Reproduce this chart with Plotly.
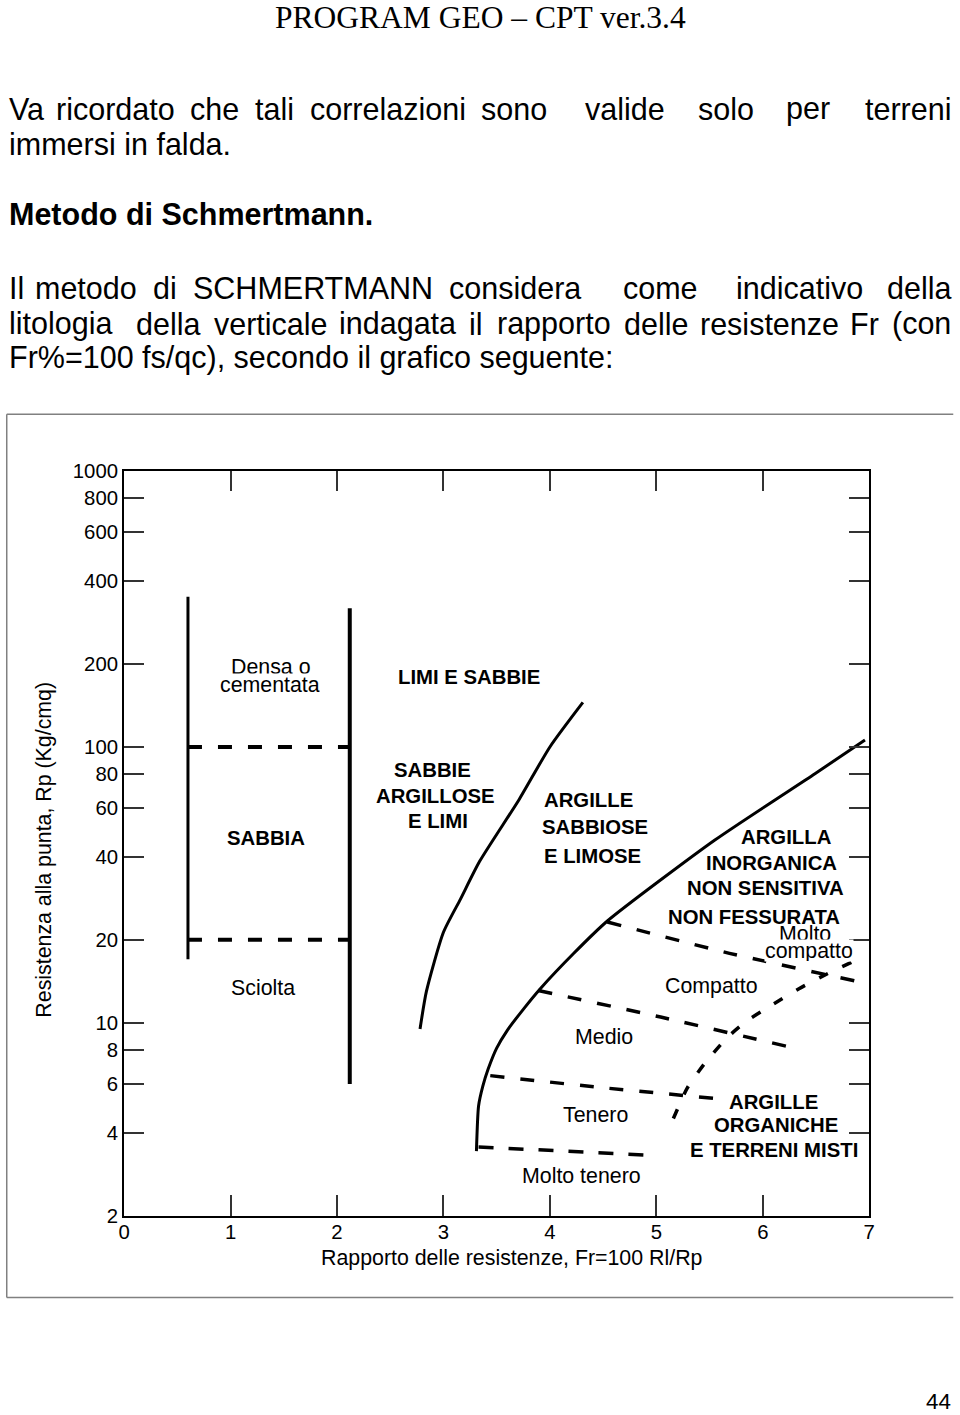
import math
import plotly.graph_objects as go

W, H = 960, 1415
SANS = "Liberation Sans, Arial, sans-serif"
SERIF = "Liberation Serif, Times New Roman, serif"

# The page is shown with the browser's default 8px body margin and the whole page is then
# fitted into 960x1415, so target positions (measured on the reference) are mapped accordingly.
SX = (W + 16) / W
SY = (H + 16) / H
FS = SX  # font scale


def fx(r):
    return min(max(r * SX - 8, 0.75), W - 0.75) / W


def fy(r):
    return 1 - min(max(r * SY - 8, 0.75), H - 0.75) / H


# ---------------- data ----------------
x_ticks = [0, 1, 2, 3, 4, 5, 6, 7]
y_ticks = [2, 4, 6, 8, 10, 20, 40, 60, 80, 100, 200, 400, 600, 800, 1000]

# sand column boundaries
sand_left_x = [0.6, 0.6]
sand_left_y = [350, 17]
sand_right_x = [2.12, 2.12]
sand_right_y = [318, 6]
sand_dense_x = [0.6, 2.12]
sand_dense_y = [100, 100]
sand_loose_x = [0.6, 2.12]
sand_loose_y = [20, 20]

# boundary sabbie argillose / argille sabbiose
silt_x = [2.78, 2.84, 3.00, 3.16, 3.34, 3.71, 4.00, 4.31]
silt_y = [9.5, 13.0, 21.3, 28.1, 38.5, 64.4, 100, 145]

# boundary argille sabbiose / argilla inorganica
clay_x = [3.31, 3.33, 3.37, 3.42, 3.50, 3.60, 3.75, 3.91, 4.22, 4.54, 5.55, 6.49, 6.96]
clay_y = [3.43, 5.0, 5.9, 6.8, 8.1, 9.4, 11.2, 13.3, 17.8, 23.4, 46, 80, 106]

# consistency limits (dashed)
molto_compatto_x = [4.54, 5.63, 6.90]
molto_compatto_y = [23.2, 18.1, 14.1]
compatto_x = [3.89, 5.04, 6.24]
compatto_y = [13.1, 10.5, 8.2]
medio_x = [3.44, 4.48, 5.56]
medio_y = [6.44, 5.83, 5.32]
tenero_x = [3.33, 4.90]
tenero_y = [3.55, 3.32]
organic_x = [5.16, 5.29, 5.45, 5.66, 5.84, 6.10, 6.34, 6.58, 6.91]
organic_y = [4.5, 5.8, 7.1, 8.8, 10.1, 11.7, 13.3, 14.9, 17.1]

# zone labels: text, x, y, bold
label_text = ["Densa o", "cementata", "LIMI E SABBIE", "SABBIA", "Sciolta",
              "SABBIE", "ARGILLOSE", "E LIMI",
              "ARGILLE", "SABBIOSE", "E LIMOSE",
              "ARGILLA", "INORGANICA", "NON SENSITIVA", "NON FESSURATA",
              "Molto", "compatto", "Compatto", "Medio", "Tenero", "Molto tenero",
              "ARGILLE", "ORGANICHE", "E TERRENI MISTI"]
label_x = [1.377, 1.373, 3.241, 1.335, 1.307,
           2.901, 2.925, 2.945,
           4.363, 4.426, 4.401,
           6.222, 6.080, 6.024, 5.920,
           6.401, 6.434, 5.522, 4.505, 4.429, 4.297,
           6.099, 6.127, 6.108]
label_y = [195.5, 169, 179.5, 46.9, 13.4,
           82.2, 66.2, 53.8,
           64.4, 51.2, 40.2,
           47.2, 38.1, 30.9, 24.1,
           21.0, 18.3, 13.6, 8.9, 4.63, 2.78,
           5.18, 4.25, 3.45]
label_bold = [False, False, True, True, False,
              True, True, True,
              True, True, True,
              True, True, True, True,
              False, False, False, False, False, False,
              True, True, True]

x_title = "Rapporto delle resistenze, Fr=100 Rl/Rp"
y_title = "Resistenza alla punta, Rp (Kg/cmq)"

# ---------------- figure ----------------
fig = go.Figure()


def add_line(xs, ys, width=3, dash="solid", shape="linear"):
    fig.add_trace(go.Scatter(x=xs, y=ys, mode="lines", showlegend=False, hoverinfo="skip",
                             line=dict(color="black", width=width, dash=dash, shape=shape,
                                       smoothing=0.6)))


add_line(sand_left_x, sand_left_y, width=3)
add_line(sand_right_x, sand_right_y, width=4)
add_line(sand_dense_x, sand_dense_y, width=4, dash="14px,16px")
add_line(sand_loose_x, sand_loose_y, width=4, dash="14px,16px")
add_line(silt_x, silt_y, width=3, shape="spline")
add_line(clay_x, clay_y, width=3, shape="spline")
add_line(molto_compatto_x, molto_compatto_y, width=3.5, dash="14px,16px", shape="spline")
add_line(compatto_x, compatto_y, width=3.5, dash="14px,16px", shape="spline")
add_line(medio_x, medio_y, width=3.5, dash="14px,16px", shape="spline")
add_line(tenero_x, tenero_y, width=3.5, dash="15px,15px")
add_line(organic_x, organic_y, width=3.5, dash="10px,16px", shape="spline")

# plot-area box on the reference (pixels)
PL, PR, PT, PB = 125.5, 867.7, 470, 1218

ann = []
for t, lx, ly, b in zip(label_text, label_x, label_y, label_bold):
    d = dict(text=t, x=lx, y=math.log10(ly), xref="x", yref="y", showarrow=False,
             xanchor="center", yanchor="middle",
             font=dict(family=SANS, size=(20 if b else 21) * FS, color="black",
                       weight="bold" if b else "normal"))
    if t in ("cementata", "compatto"):
        d["bgcolor"] = "white"
        d["borderpad"] = 0
        d["height"] = 21
        d["valign"] = "middle"
    ann.append(d)


def px_ann(text, px, py, size, xanchor="left", family=SANS, bold=False, angle=0):
    return dict(text=text, x=fx(px), y=fy(py), xref="paper", yref="paper",
                showarrow=False, xanchor=xanchor, yanchor="middle", textangle=angle,
                font=dict(family=family, size=size * FS, color="black",
                          weight="bold" if bold else "normal"))


# axis titles
ann.append(px_ann(x_title, 511.5, 1260, 21, xanchor="center"))
ann.append(px_ann(y_title, 46, 850, 21, xanchor="center", angle=-90))

# page text (justified lines placed word by word)
ann.append(px_ann("PROGRAM GEO \u2013 CPT ver.3.4", 480, 14, 31, xanchor="center", family=SERIF))
BS = 30
line1 = [("Va", 3), ("ricordato", 56), ("che", 189), ("tali", 254), ("correlazioni", 309),
         ("sono", 479), ("valide", 583), ("solo", 695), ("per", 783)]
for w, x0 in line1:
    ann.append(px_ann(w, x0, 106, BS))
ann.append(px_ann("terreni", 958, 106, BS, xanchor="right"))
ann.append(px_ann("immersi in falda.", 3, 142, BS))
ann.append(px_ann("Metodo di Schmertmann.", 3, 212, 30, bold=True))
line4 = [("Il", 3), ("metodo", 35), ("di", 152), ("SCHMERTMANN", 192), ("considera", 447),
         ("come", 620), ("indicativo", 733)]
for w, x0 in line4:
    ann.append(px_ann(w, x0, 286, BS))
ann.append(px_ann("della", 958, 286, BS, xanchor="right"))
line5 = [("litologia", 3), ("della", 135), ("verticale", 213), ("indagata", 338), ("il", 467),
         ("rapporto", 495), ("delle", 621), ("resistenze", 697), ("Fr", 847)]
for w, x0 in line5:
    ann.append(px_ann(w, x0, 322, BS))
ann.append(px_ann("(con", 958, 322, BS, xanchor="right"))
ann.append(px_ann("Fr%=100 fs/qc), secondo il grafico seguente:", 3, 356, BS))
ann.append(px_ann("44", 958, 1405, 22, xanchor="right"))

# frame around the chart (left, top, bottom)
FRAME = dict(color="#808080", width=1.5)
shapes = [
    dict(type="line", xref="paper", yref="paper", x0=fx(2), x1=fx(2), y0=fy(413), y1=fy(1300), line=FRAME),
    dict(type="line", xref="paper", yref="paper", x0=fx(2), x1=fx(958), y0=fy(413), y1=fy(413), line=FRAME),
    dict(type="line", xref="paper", yref="paper", x0=fx(2), x1=fx(958), y0=fy(1300), y1=fy(1300), line=FRAME),
]

axis_common = dict(showgrid=False, zeroline=False, showline=True, linecolor="black", linewidth=2,
                   mirror="ticks", ticks="inside", ticklen=20 * FS, tickwidth=1.5, tickcolor="#333",
                   tickfont=dict(family=SANS, size=20 * FS, color="black"))

fig.update_layout(
    width=W, height=H, autosize=False,
    margin=dict(l=0, r=0, t=0, b=0, pad=0),
    paper_bgcolor="white", plot_bgcolor="white",
    xaxis=dict(range=[0, 7], tickvals=x_ticks, ticktext=[str(v) for v in x_ticks],
               domain=[fx(PL), fx(PR)], ticklabelstandoff=-3, **axis_common),
    yaxis=dict(type="log", range=[math.log10(2), 3], tickvals=y_ticks,
               ticktext=[str(v) for v in y_ticks],
               domain=[fy(PB), fy(PT)], ticklabelstandoff=0, **axis_common),
    annotations=ann, shapes=shapes,
)

fig.write_html("out.html")
